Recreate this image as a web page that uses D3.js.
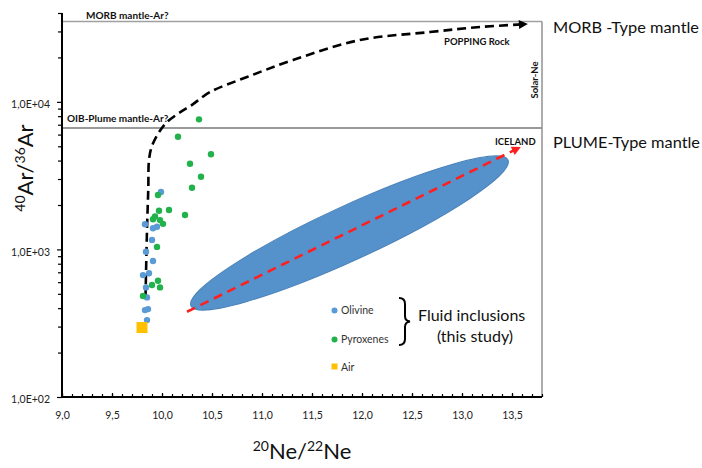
<!DOCTYPE html>
<html>
<head>
<meta charset="utf-8">
<script src="https://cdn.jsdelivr.net/npm/d3@7"></script>
<style>
  html, body { margin: 0; padding: 0; background: #fff; }
  svg { display: block; font-family: Lato, "Open Sans", sans-serif; }
</style>
</head>
<body>
<svg id="chart" width="702" height="468"></svg>
<script>
// 20Ne/22Ne vs 40Ar/36Ar of fluid inclusions
const olivineNe = [9.99, 9.83, 9.91, 9.95, 9.90, 9.84, 9.91, 9.81, 9.87, 9.84, 9.85, 9.83, 9.86, 9.85];
const olivineAr = [2450, 1480, 1390, 1425, 1160, 965, 835, 670, 690, 553, 473, 388, 394, 332];

const pyroxeneNe = [10.37, 10.16, 10.49, 10.28, 10.39, 10.30, 9.96, 9.97, 10.07, 10.23, 9.93, 9.91, 9.98, 10.01, 9.95, 9.96, 9.90, 9.98, 9.81];
const pyroxeneAr = [7610, 5800, 4410, 3810, 3110, 2620, 2340, 1830, 1850, 1710, 1670, 1600, 1580, 1490, 1040, 614, 574, 553, 483];

const airNe = [9.8];
const airAr = [295.5];

// mixing trend toward the MORB (popping rock) end-member
const mixNe = [9.835, 9.85, 9.863, 9.87, 9.897, 9.963, 10.047, 10.18, 10.297, 10.48, 10.85, 11.31, 11.98, 12.68, 13.18, 13.65];
const mixAr = [469, 1353, 2606, 4035, 4965, 6118, 7262, 8492, 9509, 11650, 14730, 19190, 26240, 29720, 32140, 33650];

// Iceland trend and field (long-axis tips)
const icelandNe = [10.25, 13.58];
const icelandAr = [378, 4920];
const fieldNe = [10.29, 13.46];
const fieldAr = [414, 4035];
const fieldAspect = 0.155;

// reference end-members
const morbAr = 35000;
const oibAr = 6650;
const solarNe = 13.8;

const xTicks = [9.0, 9.5, 10.0, 10.5, 11.0, 11.5, 12.0, 12.5, 13.0, 13.5];
const yTicks = [100, 1000, 10000];
const yTickLabels = ["1,0E+02", "1,0E+03", "1,0E+04"];

const svg = d3.select("#chart");
const x = d3.scaleLinear().domain([9, 13.8]).range([62, 542]);
const y = d3.scaleLog().domain([100, 40000]).range([397, 13]);

const defs = svg.append("defs");
function arrow(id, color) {
  defs.append("marker")
    .attr("id", id).attr("viewBox", "0 0 10 10")
    .attr("refX", 9).attr("refY", 5)
    .attr("markerUnits", "userSpaceOnUse")
    .attr("markerWidth", 10).attr("markerHeight", 9)
    .attr("orient", "auto")
    .append("path").attr("d", "M0,0 L10,5 L0,10 Z").attr("fill", color);
}
arrow("arrowBlack", "#000");
arrow("arrowRed", "#ff1f1f");

// Iceland field ellipse
{
  const x0 = x(fieldNe[0]), y0 = y(fieldAr[0]);
  const x1 = x(fieldNe[1]), y1 = y(fieldAr[1]);
  const cx = (x0 + x1) / 2, cy = (y0 + y1) / 2;
  const half = Math.hypot(x1 - x0, y1 - y0) / 2;
  const ang = Math.atan2(y1 - y0, x1 - x0) * 180 / Math.PI;
  svg.append("ellipse")
    .attr("cx", 0).attr("cy", 0)
    .attr("rx", half).attr("ry", half * fieldAspect)
    .attr("transform", `translate(${cx},${cy}) rotate(${ang})`)
    .attr("fill", "#5592cc")
    .attr("stroke", "#4a82b8").attr("stroke-width", 1);
}

// Iceland trend
svg.append("line")
  .attr("x1", x(icelandNe[0])).attr("y1", y(icelandAr[0]))
  .attr("x2", x(icelandNe[1])).attr("y2", y(icelandAr[1]))
  .attr("stroke", "#ff1f1f").attr("stroke-width", 2.6)
  .attr("stroke-dasharray", "9,6")
  .attr("marker-end", "url(#arrowRed)");

// reference lines
svg.append("line")
  .attr("x1", x(9)).attr("x2", x(solarNe))
  .attr("y1", y(morbAr)).attr("y2", y(morbAr))
  .attr("stroke", "#a0a0a0").attr("stroke-width", 1.4);
svg.append("line")
  .attr("x1", x(9)).attr("x2", x(solarNe))
  .attr("y1", y(oibAr)).attr("y2", y(oibAr))
  .attr("stroke", "#9a9a9a").attr("stroke-width", 1.8);
svg.append("line")
  .attr("x1", x(solarNe)).attr("x2", x(solarNe))
  .attr("y1", y(morbAr)).attr("y2", y(100))
  .attr("stroke", "#8a8a8a").attr("stroke-width", 1.4);

// mixing curve
const mixData = mixNe.map((v, i) => [v, mixAr[i]]);
svg.append("path")
  .datum(mixData)
  .attr("d", d3.line().x(d => x(d[0])).y(d => y(d[1])).curve(d3.curveCatmullRom.alpha(0.5)))
  .attr("fill", "none").attr("stroke", "#000").attr("stroke-width", 2.6)
  .attr("stroke-dasharray", "9,5")
  .attr("marker-end", "url(#arrowBlack)");

// axes
const xAxisMinor = d3.axisBottom(x).tickValues(d3.range(90, 139).map(v => v / 10))
  .tickSize(-3).tickSizeOuter(0).tickFormat("");
const gxm = svg.append("g").attr("transform", "translate(0,397)").call(xAxisMinor);
gxm.select(".domain").remove();

const xAxis = d3.axisBottom(x).tickValues(xTicks).tickSize(-4).tickSizeOuter(0)
  .tickPadding(15).tickFormat(d => d3.format(".1f")(d).replace(".", ","));
const gx = svg.append("g").attr("transform", "translate(0,397)").call(xAxis);
gx.select(".domain").remove();

const yMinor = [];
[100, 1000, 10000].forEach(dec => { for (let k = 2; k <= 9; k++) { if (dec * k <= 40000) yMinor.push(dec * k); } });
const yAxisMinor = d3.axisLeft(y).tickValues(yMinor).tickSize(4).tickSizeOuter(0).tickFormat("");
const gym = svg.append("g").attr("transform", "translate(62,0)").call(yAxisMinor);
gym.select(".domain").remove();

const yAxis = d3.axisLeft(y).tickValues(yTicks).tickSize(5).tickSizeOuter(0)
  .tickPadding(7).tickFormat((d, i) => yTickLabels[i]);
const gy = svg.append("g").attr("transform", "translate(62,0)").call(yAxis);
gy.select(".domain").remove();

[gxm, gx, gym, gy].forEach(g => {
  g.selectAll("line").attr("stroke", "#000").attr("stroke-width", 1.2);
  g.selectAll("text").attr("font-family", "Lato, 'Open Sans', sans-serif")
    .attr("font-size", 10.5).attr("fill", "#222");
});
gy.selectAll("text").attr("dy", "0.55em");

svg.append("line").attr("x1", 62).attr("x2", 62).attr("y1", 397).attr("y2", 13)
  .attr("stroke", "#000").attr("stroke-width", 2);
svg.append("line").attr("x1", 61).attr("x2", 542).attr("y1", 397).attr("y2", 397)
  .attr("stroke", "#000").attr("stroke-width", 2);

// data points
svg.append("g").selectAll("circle")
  .data(olivineNe.map((v, i) => [v, olivineAr[i]]))
  .join("circle")
  .attr("cx", d => x(d[0])).attr("cy", d => y(d[1])).attr("r", 3.2)
  .attr("fill", "#5b9bd5");
svg.append("g").selectAll("circle")
  .data(pyroxeneNe.map((v, i) => [v, pyroxeneAr[i]]))
  .join("circle")
  .attr("cx", d => x(d[0])).attr("cy", d => y(d[1])).attr("r", 3.2)
  .attr("fill", "#22b24c");
svg.append("g").selectAll("rect")
  .data(airNe.map((v, i) => [v, airAr[i]]))
  .join("rect")
  .attr("x", d => x(d[0]) - 5.5).attr("y", d => y(d[1]) - 5.5)
  .attr("width", 11).attr("height", 11)
  .attr("fill", "#ffc000");

// annotations
const bold = (t, px, py, size) => svg.append("text").text(t)
  .attr("x", px).attr("y", py).attr("font-size", size).attr("font-weight", "bold").attr("fill", "#111");
bold("MORB mantle-Ar?", 86, 19, 10);
bold("OIB-Plume mantle-Ar?", 67, 122, 10);
bold("POPPING Rock", 444, 45, 9.5);
bold("ICELAND", 495, 145, 9.5);
svg.append("text").text("Solar-Ne")
  .attr("transform", "translate(538,80) rotate(-90)")
  .attr("text-anchor", "middle").attr("font-size", 9.5).attr("font-weight", "bold").attr("fill", "#111");

svg.append("text").text("MORB -Type mantle").attr("x", 553).attr("y", 33)
  .attr("font-size", 16).attr("textLength", 146).attr("lengthAdjust", "spacingAndGlyphs").attr("fill", "#111");
svg.append("text").text("PLUME-Type mantle").attr("x", 553).attr("y", 148)
  .attr("font-size", 16).attr("textLength", 147).attr("lengthAdjust", "spacingAndGlyphs").attr("fill", "#111");

// legend
const legend = svg.append("g");
legend.append("circle").attr("cx", 334.5).attr("cy", 310.5).attr("r", 3).attr("fill", "#5b9bd5");
legend.append("circle").attr("cx", 334.5).attr("cy", 339.5).attr("r", 3).attr("fill", "#22b24c");
legend.append("rect").attr("x", 331.5).attr("y", 363.5).attr("width", 6).attr("height", 6).attr("fill", "#ffc000");
[["Olivine", 314.3], ["Pyroxenes", 343.3], ["Air", 370.5]].forEach(([t, py]) =>
  legend.append("text").text(t).attr("x", 341).attr("y", py).attr("font-size", 10.5).attr("fill", "#333"));
legend.append("path")
  .attr("d", "M399,298 Q405,298 405,304 L405,316 Q405,321 410,321.5 Q405,322 405,327 L405,339 Q405,345 399,345")
  .attr("fill", "none").attr("stroke", "#000").attr("stroke-width", 2);
legend.append("text").text("Fluid inclusions").attr("x", 418).attr("y", 320.5)
  .attr("font-size", 16).attr("fill", "#111");
legend.append("text").text("(this study)").attr("x", 475).attr("y", 341.5)
  .attr("text-anchor", "middle").attr("font-size", 16).attr("fill", "#111");

// axis titles
function isoTitle(tx, ty, rot, parts) {
  const t = svg.append("text")
    .attr("transform", `translate(${tx},${ty}) rotate(${rot})`)
    .attr("text-anchor", "middle").attr("font-size", 22).attr("fill", "#111");
  parts.forEach(([mass, el]) => {
    t.append("tspan").text(mass).attr("font-size", 14).attr("dy", -8);
    t.append("tspan").text(el).attr("dy", 8);
  });
}
isoTitle(33, 168, -90, [["40", "Ar/"], ["36", "Ar"]]);
isoTitle(302, 459, 0, [["20", "Ne/"], ["22", "Ne"]]);
</script>
</body>
</html>
